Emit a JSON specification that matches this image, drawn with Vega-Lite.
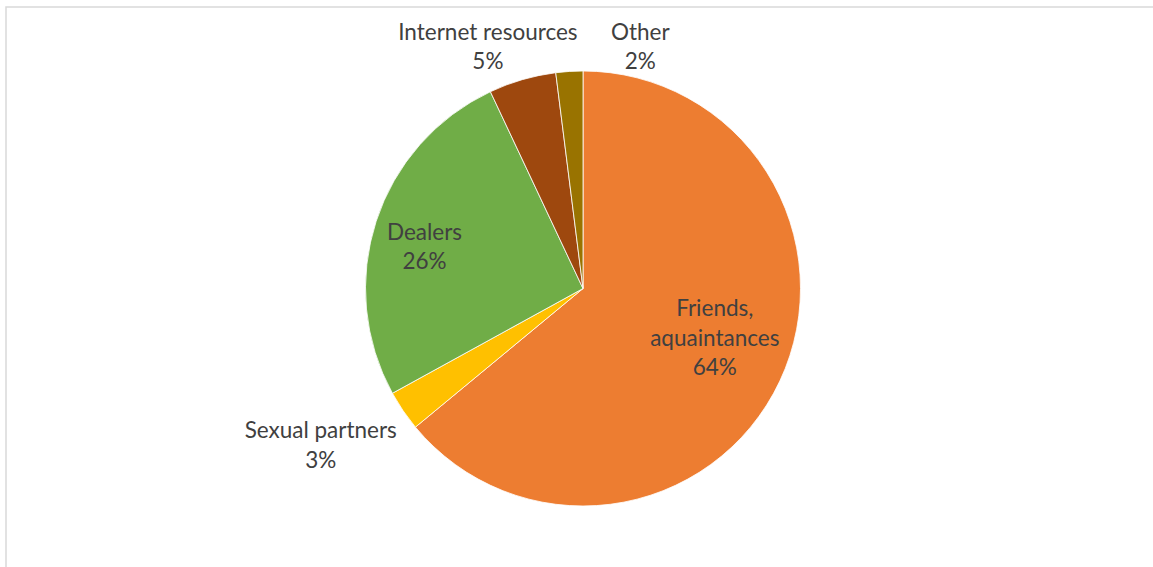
{
  "$schema": "https://vega.github.io/schema/vega-lite/v6.json",
  "autosize": {"type": "none"},
  "width": 1154,
  "height": 563,
  "padding": {"left": 6, "top": 7, "right": -7, "bottom": -3},
  "background": "white",
  "config": {
    "view": {"stroke": "#d9d9d9", "strokeWidth": 1.5},
    "text": {"font": "Lato", "fontSize": 22.5, "fill": "#404040", "lineBreak": "\n", "lineHeight": 29.5, "align": "center", "baseline": "middle"}
  },
  "data": {
    "values": [
      {"cat": "Friends, aquaintances", "ord": 1, "value": 64, "label": "Friends,\naquaintances\n64%"},
      {"cat": "Sexual partners", "ord": 2, "value": 3, "label": "Sexual partners\n3%"},
      {"cat": "Dealers", "ord": 3, "value": 26, "label": "Dealers\n26%"},
      {"cat": "Internet resources", "ord": 4, "value": 5, "label": "Internet resources\n5%"},
      {"cat": "Other", "ord": 5, "value": 2, "label": "Other\n2%"}
    ]
  },
  "layer": [
    {
      "data": {"values": [{"frame": 1}]},
      "mark": {"type": "rect", "fill": null, "stroke": "#d9d9d9", "strokeWidth": 1.5},
      "encoding": {}
    },
    {
      "mark": {"type": "arc", "outerRadius": 217.5, "stroke": "white", "strokeWidth": 0.8},
      "encoding": {
        "theta": {"field": "value", "type": "quantitative", "stack": true},
        "order": {"field": "ord", "type": "quantitative"},
        "color": {
          "field": "cat", "type": "nominal", "legend": null,
          "scale": {
            "domain": ["Friends, aquaintances", "Sexual partners", "Dealers", "Internet resources", "Other"],
            "range": ["#ED7D31", "#FFC000", "#70AD47", "#9E480E", "#997300"]
          }
        }
      }
    },
    {
      "mark": {"type": "text", "radius": 139, "dx": 6, "dy": -38.5},
      "encoding": {
        "theta": {"field": "value", "type": "quantitative", "stack": true},
        "order": {"field": "ord", "type": "quantitative"},
        "text": {"condition": {"test": "datum.ord === 1", "field": "label"}, "value": ""}
      }
    },
    {
      "mark": {"type": "text", "radius": 164, "dx": -2.5, "dy": -5},
      "encoding": {
        "theta": {"field": "value", "type": "quantitative", "stack": true},
        "order": {"field": "ord", "type": "quantitative"},
        "text": {"condition": {"test": "datum.ord === 3", "field": "label"}, "value": ""}
      }
    },
    {
      "mark": {"type": "text", "radius": 305, "dx": -10, "dy": -28.5},
      "encoding": {
        "theta": {"field": "value", "type": "quantitative", "stack": true},
        "order": {"field": "ord", "type": "quantitative"},
        "text": {"condition": {"test": "datum.ord === 2", "field": "label"}, "value": ""}
      }
    },
    {
      "mark": {"type": "text", "radius": 262, "dx": -22, "dy": -4},
      "encoding": {
        "theta": {"field": "value", "type": "quantitative", "stack": true},
        "order": {"field": "ord", "type": "quantitative"},
        "text": {"condition": {"test": "datum.ord === 4", "field": "label"}, "value": ""}
      }
    },
    {
      "mark": {"type": "text", "radius": 251, "dx": 73, "dy": -5},
      "encoding": {
        "theta": {"field": "value", "type": "quantitative", "stack": true},
        "order": {"field": "ord", "type": "quantitative"},
        "text": {"condition": {"test": "datum.ord === 5", "field": "label"}, "value": ""}
      }
    }
  ]
}
